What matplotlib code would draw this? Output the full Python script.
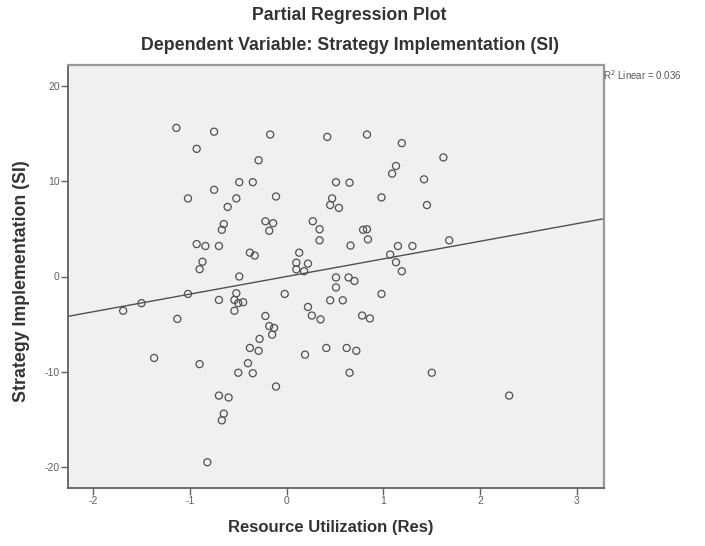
#Imports
import numpy as np
import matplotlib
matplotlib.use("Agg")
import matplotlib.pyplot as plt

# Data (partial regression residuals)
res_x = [-1.14, -0.75, -0.17, -0.93, -0.29, -0.49, -0.35, -0.75, -1.02, -0.52,
         -0.11, -0.61, -0.65, -0.67, -0.22, -0.14, -0.18, -0.93, -0.84, -0.70,
         -0.38, -0.33, -0.87, -0.90, -0.49, 0.42, 0.83, 1.19, 1.62, 1.13,
         1.09, 1.42, 0.51, 0.65, 0.98, 0.47, 0.45, 0.54, 1.45, 0.27,
         0.34, 0.34, 0.79, 0.83, 0.84, 0.66, 1.15, 1.30, 1.68, 1.07,
         1.13, 1.19, 0.13, 0.10, 0.22, 0.10, 0.18, 0.51, 0.51, 0.64,
         0.70, -0.02, 0.98, 0.45, 0.58, 0.22, 0.26, 0.35, 0.78, 0.86,
         0.19, 0.41, 0.62, 0.72, 0.65, 1.50, -0.11, 2.30, -1.69, -1.50,
         -1.02, -0.70, -0.52, -0.54, -0.50, -0.45, -0.54, -1.13, -0.22, -0.18,
         -0.13, -0.15, -0.28, -0.38, -0.29, -1.37, -0.90, -0.40, -0.50, -0.35,
         -0.70, -0.60, -0.65, -0.67, -0.82]
si_y = [15.6, 15.2, 14.9, 13.4, 12.2, 9.9, 9.9, 9.1, 8.2, 8.2,
        8.4, 7.3, 5.5, 4.9, 5.8, 5.6, 4.8, 3.4, 3.2, 3.2,
        2.5, 2.2, 1.55, 0.77, 0.0, 14.65, 14.9, 14.0, 12.5, 11.6,
        10.8, 10.2, 9.9, 9.85, 8.3, 8.2, 7.5, 7.2, 7.5, 5.8,
        4.96, 3.8, 4.9, 4.96, 3.9, 3.25, 3.2, 3.2, 3.8, 2.3,
        1.5, 0.55, 2.5, 1.45, 1.35, 0.75, 0.55, -0.1, -1.15, -0.1,
        -0.47, -1.83, -1.83, -2.5, -2.5, -3.2, -4.1, -4.5, -4.1, -4.4,
        -8.2, -7.5, -7.5, -7.8, -10.1, -10.1, -11.55, -12.5, -3.6, -2.8,
        -1.83, -2.46, -1.76, -2.46, -2.8, -2.7, -3.6, -4.45, -4.14, -5.2,
        -5.4, -6.1, -6.55, -7.5, -7.8, -8.55, -9.2, -9.1, -10.1, -10.15,
        -12.5, -12.7, -14.4, -15.1, -19.5]

# Fit line as shown on the chart
fit_intercept = 0.0
fit_slope = 1.85
r2_text = "R$^2$ Linear = 0.036"

x_ticks = [-2, -1, 0, 1, 2, 3]
y_ticks = [-20, -10, 0, 10, 20]

plt.rcParams['font.family'] = ['Liberation Sans', 'DejaVu Sans']
plt.rcParams['axes.unicode_minus'] = False  # SPSS uses a plain hyphen

fig = plt.figure(figsize=(7.05, 5.46), dpi=100)
ax = fig.add_axes([68 / 705, 1 - 488 / 546, 536 / 705, 423 / 546])
ax.set_facecolor('#f0f0f0')

# Scatter of residuals
ax.scatter(res_x, si_y, s=26, facecolors='none', edgecolors='#505050', linewidths=0.9, zorder=3)

# Regression line across the whole axis
xlim = (-2.26, 3.28)
line_x = np.array(xlim)
ax.plot(line_x, fit_intercept + fit_slope * line_x, color='#505050', linewidth=1.0, zorder=2)

ax.set_xlim(xlim)
ax.set_ylim(-22.2, 22.2)
ax.set_xticks(x_ticks)
ax.set_yticks(y_ticks)
ax.tick_params(axis='both', labelsize=7.5, colors='#606060', length=5, width=1, direction='out', pad=1)

# Frame like SPSS output
for side in ['left', 'bottom']:
    ax.spines[side].set_color('#606060')
    ax.spines[side].set_linewidth(1.3)
for side in ['right', 'top']:
    ax.spines[side].set_color('#999999')
    ax.spines[side].set_linewidth(1.6)

ax.set_xlabel('Resource Utilization (Res)', fontsize=12, fontweight='bold', color='#333333')
ax.set_ylabel('Strategy Implementation (SI)', fontsize=12.8, fontweight='bold', color='#333333')
ax.xaxis.set_label_coords((336 - 68) / 536 - 0.01, -(520 - 488) / 423)
ax.yaxis.set_label_coords(-(68 - 30) / 536, 0.49)

fig.text(0.495, 1 - 16 / 546, 'Partial Regression Plot', ha='center', va='center',
         fontsize=12.8, fontweight='bold', color='#333333')
fig.text(0.497, 1 - 46 / 546, 'Dependent Variable: Strategy Implementation (SI)', ha='center', va='center',
         fontsize=12.8, fontweight='bold', color='#333333')
fig.text(603 / 705, 1 - 75 / 546, r2_text, ha='left', va='center', fontsize=7, color='#555555')

fig.savefig('out.png', dpi=100)
